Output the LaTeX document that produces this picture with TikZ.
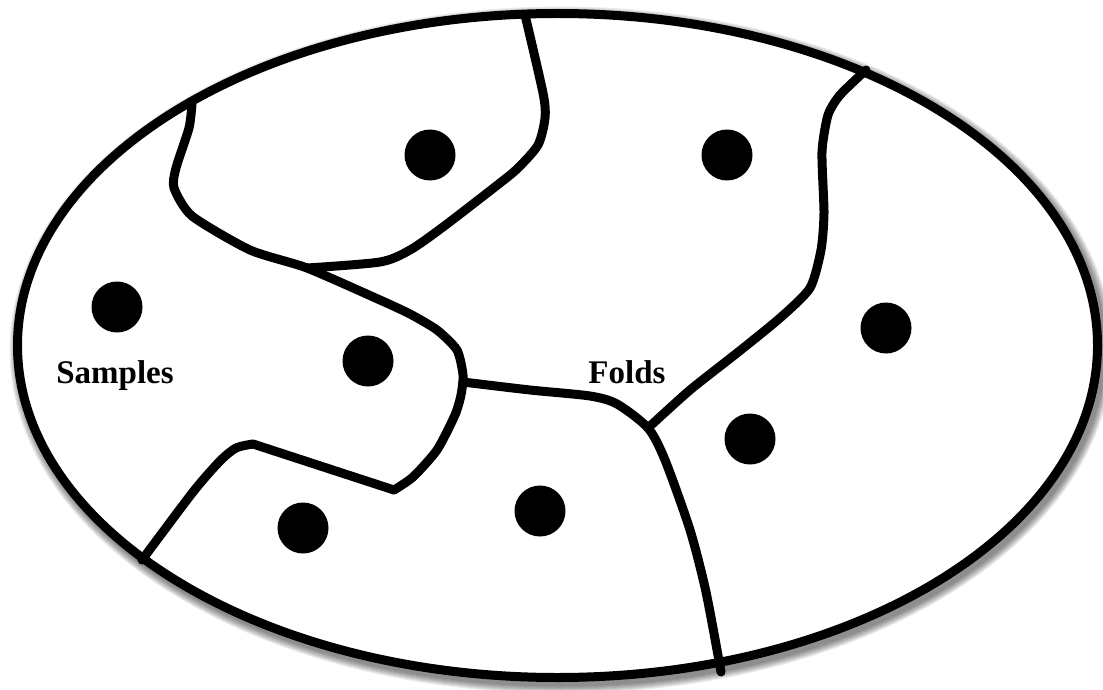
\documentclass[tikz,border=0pt]{standalone}
\usepackage{fontspec}
\setmainfont{Liberation Serif}
\begin{document}
\begin{tikzpicture}[x=1pt,y=-1pt,
  divider/.style={line width=9pt,line join=round,line cap=round},
  sample/.style={circle,fill=black,inner sep=0pt,minimum size=51pt},
  lbl/.style={font=\bfseries\fontsize{33}{36}\selectfont,inner sep=0pt,anchor=base}]
\useasboundingbox (0,0) rectangle (1103,690);
% soft shadow
\foreach \k in {1,...,8}{
  \draw[black,opacity=0.07,line width={7+2*\k}] (561,350) ellipse [x radius=540, y radius=332];
}
\fill[white] (557.5,345.5) ellipse [x radius=540, y radius=332];
% dividers
\coordinate (jl) at (463,382);
\coordinate (jr) at (648,428);
\draw[divider] plot[smooth,tension=0.45] coordinates {(525,15) (543,93) (545,118) (538,145) (518,168) (500,183) (443,227) (410,250) (380,262) (307,268)};
\draw[divider] plot[smooth,tension=0.4] coordinates {(192,104) (189,128) (176,168) (174,188) (192,216) (250,250) (307,268) (380,300) (410,314) (437,330) (457,350) (463,375) (461,395) (455,415) (437,450) (413,477) (394,490)};
\draw[divider] plot[smooth,tension=0.3] coordinates {(394,490) (253,444)};
\draw[divider] plot[smooth,tension=0.45] coordinates {(253,444) (236,448) (220,461) (193,492) (142,560)};
\draw[divider] plot[smooth,tension=0.45] coordinates {(jl) (530,390) (590,396) (617,404) (jr) (665,460) (690,530) (706,592) (721,672)};
\draw[divider] plot[smooth,tension=0.4] coordinates {(jr) (690,390) (737,353) (780,318) (810,288) (821,250) (824,213) (822,152) (828,115) (840,95) (866,70)};
% outline
\draw[line width=9pt] (557.5,345.5) ellipse [x radius=540, y radius=332];
% samples
\node[sample] (d1) at (430,155) {};
\node[sample] (d2) at (727,155) {};
\node[sample] (d3) at (117,307) {};
\node[sample] (d4) at (368,361) {};
\node[sample] (d5) at (886,328) {};
\node[sample] (d6) at (750,439) {};
\node[sample] (d7) at (303,528) {};
\node[sample] (d8) at (540,511) {};
\node[lbl] (samples) at (115,383) {Samples};
\node[lbl] (folds) at (627,383) {Folds};
\end{tikzpicture}
\end{document}
